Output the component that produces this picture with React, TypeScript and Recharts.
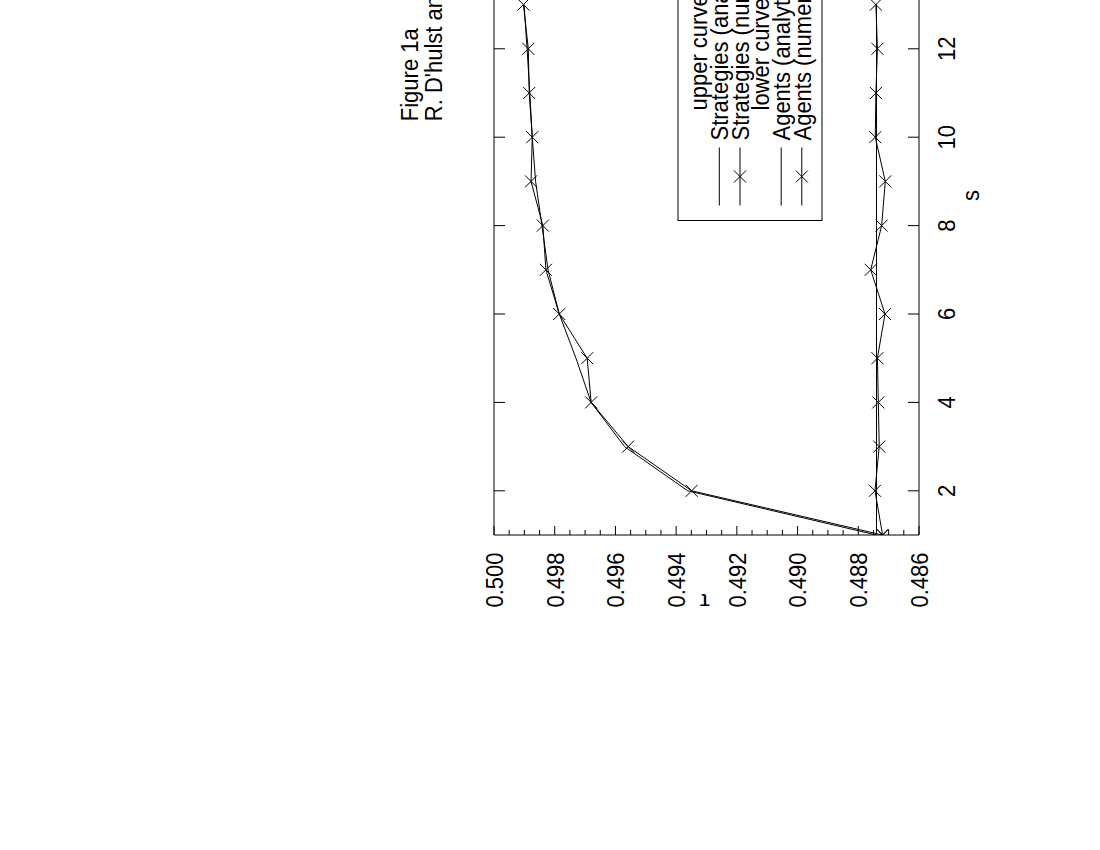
import React from 'react';
import { LineChart, Line, XAxis, YAxis, ReferenceArea } from 'recharts';

// ---------- data ----------
const sValues = [1, 2, 3, 4, 5, 6, 7, 8, 9, 10, 11, 12, 13];
const strategiesAnalytical = [0.4874, 0.49362, 0.4957, 0.4968, 0.4973, 0.49785, 0.49822, 0.49842, 0.49863, 0.49874, 0.49882, 0.49891, 0.49901];
const strategiesNumerical = [0.4872, 0.49349, 0.49558, 0.4968, 0.49693, 0.49785, 0.49829, 0.49839, 0.49878, 0.49874, 0.49884, 0.49887, 0.49903];
const agentsAnalytical = [0.4874, 0.4874, 0.4874, 0.4874, 0.4874, 0.4874, 0.4874, 0.4874, 0.4874, 0.4874, 0.4874, 0.4874, 0.4874];
const agentsNumerical = [0.4872, 0.48745, 0.48731, 0.48734, 0.48737, 0.48712, 0.48759, 0.48723, 0.48711, 0.48744, 0.48742, 0.48737, 0.48742];

const xTicks = [2, 4, 6, 8, 10, 12, 14, 16];
const yMajorTicks = [0.486, 0.488, 0.49, 0.492, 0.494, 0.496, 0.498, 0.5];
const yMajorLabels = ['0.486', '0.488', '0.490', '0.492', '0.494', '0.496', '0.498', '0.500'];
const yMinorTicks = [0.4865, 0.487, 0.4875, 0.4885, 0.489, 0.4895, 0.4905, 0.491, 0.4915, 0.4925, 0.493, 0.4935, 0.4945, 0.495, 0.4955, 0.4965, 0.497, 0.4975, 0.4985, 0.499, 0.4995];

const titleLines = ['Figure 1a', "R. D'hulst and G. J. Rodgers"];
const legendRows = [
  { label: 'upper curves:', kind: 'header' },
  { label: 'Strategies (analytical)', kind: 'line' },
  { label: 'Strategies (numerical)', kind: 'cross' },
  { label: 'lower curves:', kind: 'header' },
  { label: 'Agents (analytical)', kind: 'line' },
  { label: 'Agents (numerical)', kind: 'cross' },
];
const xLabel = 's';
const yLabel = 'τ';

const data = sValues.map((s, i) => ({
  s,
  sa: strategiesAnalytical[i],
  sn: strategiesNumerical[i],
  aa: agentsAnalytical[i],
  an: agentsNumerical[i],
}));

// ---------- layout (chart drawn in its own orientation, then rotated) ----------
const FONT = '"Liberation Sans", Arial, Helvetica, sans-serif';
const FS = 22;
const K = 1.12; // vertical text stretch
const PLOT_L = 100;
const PLOT_T = 120;
const PLOT_H = 425;
const PLOT_B = PLOT_T + PLOT_H;
const PX_PER_S = 44.2;
const X_MIN = 1;
const X_MAX = 16;
const PLOT_W = (X_MAX - X_MIN) * PX_PER_S;
const PLOT_R = PLOT_L + PLOT_W;
const W = PLOT_R + 20;
const H = PLOT_B + 90;
const YAXIS_W = 80;
const XAXIS_H = 60;
const LEFT = 494 - PLOT_T;
const TOP = 534.5 + PLOT_L;

const allYTicks = [...yMajorTicks, ...yMinorTicks].sort((a, b) => a - b);

const isMajor = (v: number) => yMajorTicks.some((m) => Math.abs(m - v) < 1e-7);

const Txt = ({ u, v, anchor, children, rotate }: any) => (
  <text
    transform={`translate(${u},${v}) scale(1,${K})${rotate ? ` rotate(${rotate})` : ''}`}
    textAnchor={anchor || 'start'}
    fontFamily={FONT}
    fontSize={FS}
    fill="#000"
  >
    {children}
  </text>
);

const XTick = (props: any) => {
  const { x, payload } = props;
  return (
    <g>
      <line x1={x} x2={x} y1={PLOT_B} y2={PLOT_B - 11} stroke="#000" strokeWidth={1} />
      <line x1={x} x2={x} y1={PLOT_T} y2={PLOT_T + 11} stroke="#000" strokeWidth={1} />
      <Txt u={x} v={PLOT_B + 27 + 0.36 * FS * K} anchor="middle">
        {String(payload.value)}
      </Txt>
    </g>
  );
};

const YTick = (props: any) => {
  const { y, payload } = props;
  const major = isMajor(payload.value);
  const len = major ? 9 : 5;
  const idx = yMajorTicks.findIndex((m) => Math.abs(m - payload.value) < 1e-7);
  return (
    <g>
      <line x1={PLOT_L} x2={PLOT_L + len} y1={y} y2={y} stroke="#000" strokeWidth={1} />
      <line x1={PLOT_R} x2={PLOT_R - len} y1={y} y2={y} stroke="#000" strokeWidth={1} />
      {major && (
        <Txt u={PLOT_L - 17.5} v={y + 0.36 * FS * K} anchor="end">
          {yMajorLabels[idx]}
        </Txt>
      )}
    </g>
  );
};

const crossPath = (cx: number, cy: number, r: number) =>
  `M${cx - r},${cy - r}L${cx + r},${cy + r}M${cx - r},${cy + r}L${cx + r},${cy - r}`;

const Cross = (props: any) => {
  const { cx, cy, index } = props;
  if (cx == null || cy == null) return <g key={`c${index}`} />;
  return <path key={`c${index}`} d={crossPath(cx, cy, 6)} stroke="#000" strokeWidth={1} fill="none" />;
};

const Overlay = () => {
  const boxU1 = 414.5;
  const boxU2 = 780;
  const boxV1 = 304;
  const boxV2 = 448;
  const rowV = [324.6, 345.3, 366, 386.6, 407.2, 427.8];
  return (
    <svg width={W} height={H} style={{ position: 'absolute', left: 0, top: 0, overflow: 'visible' }}>
      {titleLines.map((t, i) => (
        <Txt key={t} u={513.8} v={44 + i * 23.7}>
          {t}
        </Txt>
      ))}
      <Txt u={34.5 + 7} v={331} anchor="middle" rotate={-90}>
        {yLabel}
      </Txt>
      <Txt u={439.5} v={596 + 0.36 * FS * K} anchor="middle">
        {xLabel}
      </Txt>
      <rect x={boxU1} y={boxV1} width={boxU2 - boxU1} height={boxV2 - boxV1} fill="none" stroke="#000" strokeWidth={1} />
      {legendRows.map((r, i) => {
        const v = rowV[i];
        const header = r.kind === 'header';
        return (
          <g key={r.label}>
            <Txt u={header ? 524.5 : 494.5} v={v + 0.36 * FS * K}>
              {r.label}
            </Txt>
            {!header && <line x1={429.5} x2={487.5} y1={v} y2={v} stroke="#000" strokeWidth={1} />}
            {r.kind === 'cross' && <path d={crossPath(458.5, v, 6)} stroke="#000" strokeWidth={1} fill="none" />}
          </g>
        );
      })}
    </svg>
  );
};

export default function App() {
  return (
    <div
      style={{
        position: 'absolute',
        left: LEFT,
        top: TOP,
        width: W,
        height: H,
        transformOrigin: '0 0',
        transform: 'rotate(-90deg)',
      }}
    >
      <LineChart
        width={W}
        height={H}
        data={data}
        margin={{ top: PLOT_T, right: W - PLOT_R, left: PLOT_L - YAXIS_W, bottom: H - PLOT_B - XAXIS_H }}
      >
        <XAxis
          dataKey="s"
          type="number"
          domain={[X_MIN, X_MAX]}
          ticks={xTicks}
          interval={0}
          height={XAXIS_H}
          axisLine={false}
          tickLine={false}
          tick={(p: any) => <XTick {...p} />}
          allowDataOverflow
        />
        <YAxis
          type="number"
          domain={[0.486, 0.5]}
          ticks={allYTicks}
          interval={0}
          width={YAXIS_W}
          axisLine={false}
          tickLine={false}
          tick={(p: any) => <YTick {...p} />}
          allowDataOverflow
        />
        <ReferenceArea x1={X_MIN} x2={X_MAX} y1={0.486} y2={0.5} fill="none" stroke="#000" strokeWidth={1} strokeOpacity={1} fillOpacity={0} />
        <Line dataKey="sa" type="linear" stroke="#000" strokeWidth={1} dot={false} isAnimationActive={false} />
        <Line dataKey="sn" type="linear" stroke="#000" strokeWidth={1} dot={(p: any) => <Cross {...p} />} isAnimationActive={false} />
        <Line dataKey="aa" type="linear" stroke="#000" strokeWidth={1} dot={false} isAnimationActive={false} />
        <Line dataKey="an" type="linear" stroke="#000" strokeWidth={1} dot={(p: any) => <Cross {...p} />} isAnimationActive={false} />
      </LineChart>
      <Overlay />
    </div>
  );
}
